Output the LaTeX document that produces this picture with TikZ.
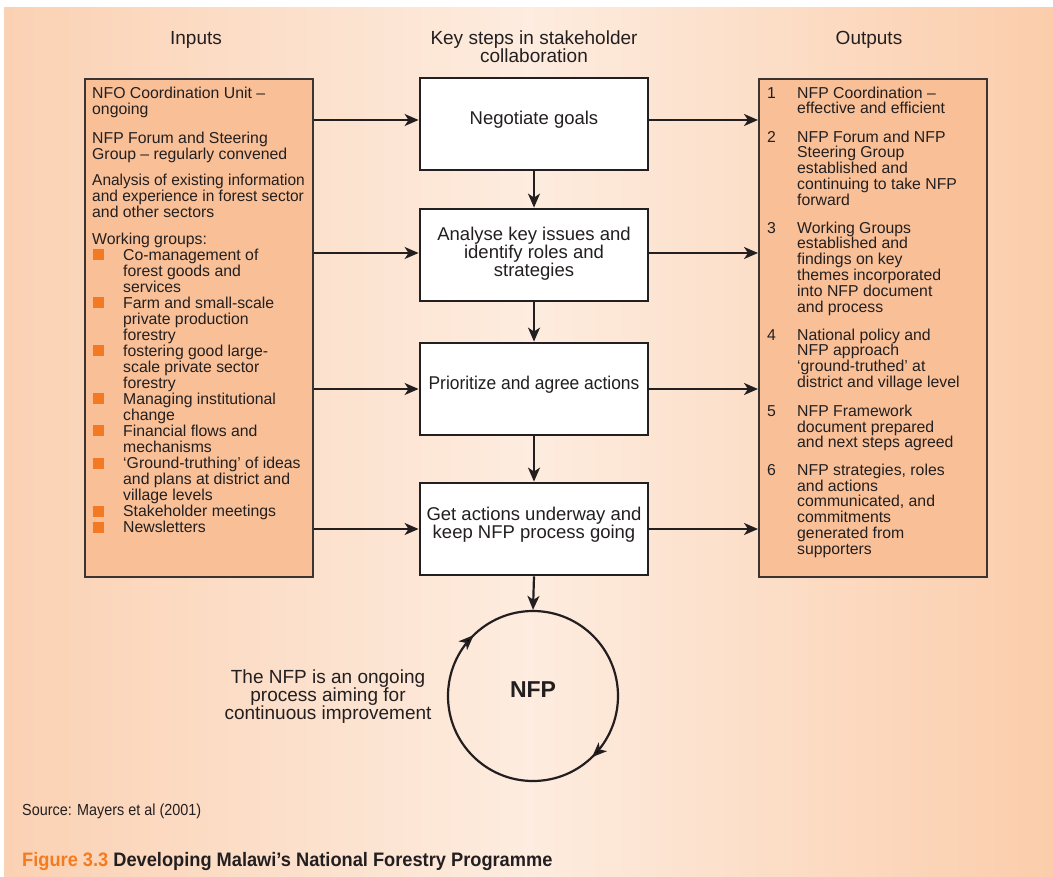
\documentclass[tikz,border=0pt]{standalone}
\usepackage{fontspec}
\setmainfont{Liberation Sans}
\newfontfamily\srcfont[FakeStretch=0.9]{Liberation Sans}
\newfontfamily\capfont[FakeStretch=0.935]{Liberation Sans}
\usetikzlibrary{arrows.meta,decorations.markings,calc}
\definecolor{ink}{HTML}{231F20}
\definecolor{boxline}{HTML}{3A3433}
\definecolor{peach}{HTML}{F9C097}
\definecolor{bulletorange}{HTML}{F37A22}
\definecolor{figorange}{HTML}{F47B20}
\definecolor{bgL}{HTML}{FBD1B3}
\definecolor{bgM}{HTML}{FDECDF}
\definecolor{bgR}{HTML}{FBCDAB}
\newcommand\mystrut{\rule{0pt}{14pt}}
\tikzset{
  stepbox/.style={draw=ink, line width=2.8pt, fill=white, minimum width=228pt, minimum height=92pt, inner sep=0pt},
  iobox/.style={draw=boxline, line width=2pt, fill=peach, minimum width=228pt, minimum height=498pt, inner sep=0pt, anchor=north west},
  coltext/.style={inner sep=0pt, anchor=north west, align=left, text=ink, font=\fontsize{15.8}{16}\selectfont},
  rcoltext/.style={inner sep=0pt, anchor=north west, align=left, text=ink, font=\fontsize{15.8}{15.8}\selectfont},
  steptext/.style={inner sep=0pt, anchor=north, align=center, text=ink, font=\fontsize{18.5}{18}\selectfont},
  headtext/.style={inner sep=0pt, anchor=north, align=center, text=ink, font=\fontsize{19}{18}\selectfont},
  arr/.style={draw=ink, line width=2.2pt, -{Stealth[length=14pt,width=12pt,inset=4pt]}},
  bulletsq/.style={fill=bulletorange},
}
\begin{document}
\begin{tikzpicture}[x=1pt,y=-1pt]
\useasboundingbox (0,0) rectangle (1053,877);
\fill[white] (0,0) rectangle (1053,877);
\shade[left color=bgL, right color=bgR, middle color=bgM] (4,8) rectangle (1053,877);

% headers
\node[headtext] (hin) at (196,30) {\mystrut Inputs};
\node[headtext] (hkey) at (534,30) {\mystrut Key steps in stakeholder\\collaboration};
\node[headtext] (hout) at (869,30) {\mystrut Outputs};

% input / output boxes
\node[iobox] (inbox) at (84,78) {};
\node[iobox] (outbox) at (758,78) {};

% step boxes
\node[stepbox] (s1) at (534,124) {};
\node[stepbox] (s2) at (534,255) {};
\node[stepbox] (s3) at (534,389) {};
\node[stepbox] (s4) at (534,529) {};
\node[steptext] (s1t) at (534,110) {\mystrut Negotiate goals};
\node[steptext] (s2t) at (534,226.5) {\mystrut Analyse key issues and\\identify roles and\\strategies};
\node[steptext] (s3t) at (534,375.3) {\mystrut\scalebox{0.94}[1]{Prioritize and agree actions}};
\node[steptext] (s4t) at (534,506) {\mystrut Get actions underway and\\keep NFP process going};

% inputs text
\node[coltext] (in1) at (92,84) {\mystrut NFO Coordination Unit –\\ongoing};
\node[coltext] (in2) at (92,129) {\mystrut NFP Forum and Steering\\Group – regularly convened};
\node[coltext] (in3) at (92,171) {\mystrut \scalebox{0.98}[1]{Analysis of existing information}\\\scalebox{0.98}[1]{and experience in forest sector}\\and other sectors};
\node[coltext] (in4) at (92,230) {\mystrut Working groups:};
\node[coltext] (b1) at (123,246) {\mystrut Co-management of\\forest goods and\\services};
\node[coltext] (b2) at (123,294) {\mystrut Farm and small-scale\\private production\\forestry};
\node[coltext] (b3) at (123,342) {\mystrut fostering good large-\\scale private sector\\forestry};
\node[coltext] (b4) at (123,390) {\mystrut Managing institutional\\change};
\node[coltext] (b5) at (123,422) {\mystrut Financial flows and\\mechanisms};
\node[coltext] (b6) at (123,454) {\mystrut ‘Ground-truthing’ of ideas\\and plans at district and\\village levels};
\node[coltext] (b7) at (123,502) {\mystrut Stakeholder meetings};
\node[coltext] (b8) at (123,518) {\mystrut Newsletters};
\foreach \b in {260,308,356,404,436,468,516,532}
  \fill[bulletsq] (93,\b-10.5) rectangle (104,\b+0.5);

% outputs text
\node[rcoltext] (n1) at (767,84) {\mystrut 1};
\node[rcoltext] (o1) at (797,84) {\mystrut NFP Coordination –\\effective and efficient};
\node[rcoltext] (n2) at (767,128) {\mystrut 2};
\node[rcoltext] (o2) at (797,128) {\mystrut NFP Forum and NFP\\Steering Group\\established and\\continuing to take NFP\\forward};
\node[rcoltext] (n3) at (767,219) {\mystrut 3};
\node[rcoltext] (o3) at (797,219) {\mystrut Working Groups\\established and\\findings on key\\themes incorporated\\into NFP document\\and process};
\node[rcoltext] (n4) at (767,326) {\mystrut 4};
\node[rcoltext] (o4) at (797,326) {\mystrut National policy and\\NFP approach\\‘ground-truthed’ at\\district and village level};
\node[rcoltext] (n5) at (767,402) {\mystrut 5};
\node[rcoltext] (o5) at (797,402) {\mystrut NFP Framework\\document prepared\\and next steps agreed};
\node[rcoltext] (n6) at (767,461) {\mystrut 6};
\node[rcoltext] (o6) at (797,461) {\mystrut NFP strategies, roles\\and actions\\communicated, and\\commitments\\generated from\\supporters};

% NFP circle
\node[draw=ink, line width=2.2pt, circle, minimum size=170pt, inner sep=0pt, text=ink,
      font=\bfseries\fontsize{23}{23}\selectfont,
      postaction={decorate},
      decoration={markings,
        mark=at position 0.373 with {\arrowreversed{Stealth[length=15pt,width=12pt,inset=4pt]}},
        mark=at position 0.872 with {\arrowreversed{Stealth[length=15pt,width=12pt,inset=4pt]}}}]
  (nfp) at (533,696) {\raisebox{6.2pt}[\height][\depth]{NFP}};
\node[headtext] (note) at (328,669) {\mystrut The NFP is an ongoing\\process aiming for\\continuous improvement};

% connectors
\coordinate (a1) at ([yshift=4pt]s1.west);
\coordinate (a2) at ([yshift=2pt]s2.west);
\coordinate (a3) at (s3.west);
\coordinate (a4) at (s4.west);
\coordinate (c1) at ([yshift=4pt]s1.east);
\coordinate (c2) at ([yshift=2pt]s2.east);
\coordinate (c3) at (s3.east);
\coordinate (c4) at (s4.east);
\foreach \k in {1,2,3,4}{
  \draw[arr] (a\k -| inbox.east) -- (a\k);
  \draw[arr] (c\k) -- (c\k -| outbox.west);
}
\draw[arr] (s1.south) -- (s2.north);
\draw[arr] (s2.south) -- (s3.north);
\draw[arr] (s3.south) -- (s4.north);
\draw[arr] (s4.south) -- (nfp.north);

% source and caption
\node[anchor=base west, inner sep=0pt, text=ink, font=\srcfont\fontsize{16}{16}\selectfont] (src) at (22,815) {Source: Mayers et al (2001)};
\node[anchor=base west, inner sep=0pt, text=ink, font=\capfont\bfseries\fontsize{19.5}{20}\selectfont] (cap) at (22,866) {\textcolor{figorange}{Figure 3.3} Developing Malawi’s National Forestry Programme};
\end{tikzpicture}
\end{document}
